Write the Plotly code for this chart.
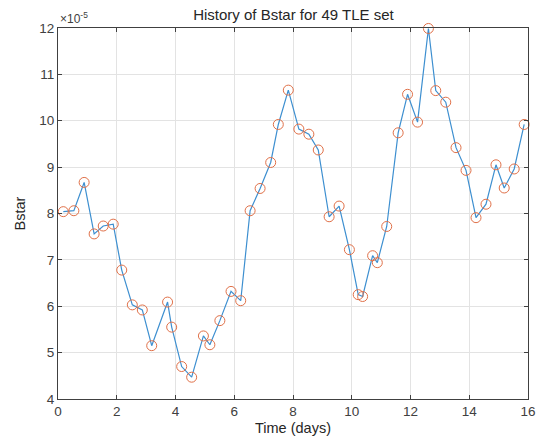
import plotly.graph_objects as go

# Time (days) of each TLE epoch
time_days = [0.18, 0.54, 0.89, 1.23, 1.54, 1.88, 2.17, 2.53, 2.87, 3.19,
             3.73, 3.87, 4.21, 4.55, 4.95, 5.17, 5.51, 5.89, 6.22, 6.54,
             6.88, 7.24, 7.50, 7.84, 8.20, 8.54, 8.86, 9.23, 9.57, 9.92,
             10.22, 10.37, 10.71, 10.87, 11.19, 11.58, 11.90, 12.24, 12.61, 12.86,
             13.20, 13.55, 13.89, 14.23, 14.57, 14.91, 15.19, 15.53, 15.87]
# Bstar values in units of 1e-5
bstar_e5 = [8.04, 8.06, 8.67, 7.56, 7.73, 7.77, 6.78, 6.03, 5.92, 5.15,
            6.09, 5.55, 4.70, 4.47, 5.36, 5.17, 5.69, 6.32, 6.12, 8.06,
            8.54, 9.10, 9.92, 10.66, 9.82, 9.71, 9.37, 7.93, 8.16, 7.22,
            6.25, 6.21, 7.09, 6.94, 7.72, 9.74, 10.57, 9.97, 11.99, 10.65,
            10.40, 9.42, 8.93, 7.91, 8.20, 9.05, 8.55, 8.96, 9.92]

x_ticks = [0, 2, 4, 6, 8, 10, 12, 14, 16]
y_ticks = [4, 5, 6, 7, 8, 9, 10, 11, 12]

font_family = "Liberation Sans, Arial, sans-serif"

fig = go.Figure()
fig.add_trace(go.Scatter(x=time_days, y=bstar_e5, mode="lines",
                         line=dict(color="#3d8fd0", width=1.2),
                         showlegend=False, hoverinfo="skip", cliponaxis=False))
fig.add_trace(go.Scatter(x=time_days, y=bstar_e5, mode="markers",
                         marker=dict(symbol="circle-open", size=10,
                                     color="#e07048", line=dict(width=1)),
                         showlegend=False, cliponaxis=False))

axis_common = dict(showgrid=True, gridcolor="#e3e3e3", gridwidth=1,
                   showline=True, linecolor="#404040", linewidth=1,
                   mirror="ticks", ticks="inside", ticklen=4,
                   tickcolor="#404040", zeroline=False, automargin=False,
                   tickfont=dict(family=font_family, size=13.5, color="#404040"))

fig.update_xaxes(range=[0, 16], tickvals=x_ticks,
                 title=dict(text="Time (days)", standoff=4,
                            font=dict(family=font_family, size=14.5, color="#262626")),
                 **axis_common)
fig.update_yaxes(range=[4, 12], tickvals=y_ticks,
                 ticktext=[str(v) for v in y_ticks],
                 title=dict(text="Bstar", standoff=10,
                            font=dict(family=font_family, size=14.5, color="#262626")),
                 **axis_common)

fig.add_annotation(text="×10<sup>-5</sup>", xref="paper", yref="paper",
                   x=0.0, y=1.0, xanchor="left", yanchor="bottom",
                   showarrow=False,
                   font=dict(family=font_family, size=12, color="#404040"))

fig.update_layout(
    width=540, height=447,
    margin=dict(l=58, r=12, t=28, b=48, autoexpand=False),
    paper_bgcolor="white", plot_bgcolor="white",
    title=dict(text="History of Bstar for 49 TLE set", x=0.5435, xanchor="center",
               y=0.968, yanchor="middle", automargin=False,
               font=dict(family=font_family, size=15, color="#262626")),
)

fig.write_html("out.html",
               config={"displayModeBar": False},
               post_script="document.body.style.margin='0';document.body.style.padding='0';")
